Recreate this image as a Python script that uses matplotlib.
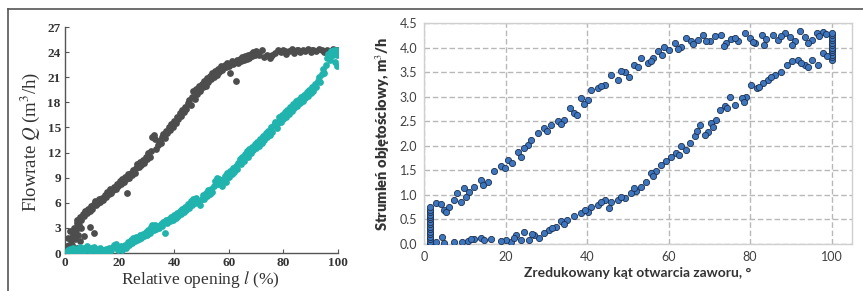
import matplotlib
matplotlib.use('Agg')
import matplotlib.pyplot as plt
from matplotlib.lines import Line2D

# ---- left panel: flowrate vs relative opening ----
open_x = [0.3, 0.6, 1.0, 1.2, 1.5, 1.8, 2.0, 2.3, 2.6, 3.0, 3.3, 3.6, 4.0, 4.3, 4.7, 5.0, 5.3,
          3.5, 4.5, 5.5, 6.0, 7.0, 9.0, 10.5,
          4.5, 5.5, 6.0, 6.5, 7.0, 7.5, 8.0, 8.5, 9.0, 9.5, 10.0, 10.5, 11.0, 11.5, 12.0, 12.5,
          13.0, 13.5, 14.0, 14.5, 15.0, 15.5, 16.0, 16.5, 17.0, 17.5, 18.0, 18.5, 19.0, 19.5,
          20.0, 20.5, 21.0, 21.5, 22.0, 22.5, 23.0, 23.5, 24.0, 24.5, 25.0, 25.5, 26.0, 26.5,
          27.0, 27.5, 28.0, 28.5, 29.0, 29.5, 30.0, 30.5, 31.0, 31.5, 32.0, 32.5, 33.0, 33.5,
          34.0, 34.5, 35.0, 35.5, 36.0, 36.5, 37.0, 37.5, 38.0, 38.5, 39.0, 39.5, 40.0, 40.5,
          41.0, 41.5, 42.0, 42.5, 43.0, 43.5, 44.0, 44.5, 45.0, 45.5, 46.0, 46.5, 47.0, 47.5,
          48.0, 48.5, 49.0, 49.5, 50.0, 50.5, 51.0, 51.5, 52.0, 52.5, 53.0, 53.5, 54.0, 54.5,
          55.0, 55.5, 56.0, 56.5, 57.0, 57.5, 58.0, 58.5, 59.0, 59.5, 60.0, 60.5, 61.0, 61.5,
          62.0, 62.5, 63.0, 63.5, 64.0, 64.5, 65.0, 65.5, 66.0, 66.5, 67.0, 67.5, 68.0, 68.5,
          69.0, 69.5, 70.0, 71.0, 72.0, 73.0, 74.0, 75.0, 76.0, 77.0, 78.0, 79.0, 80.0, 81.0,
          82.0, 83.0, 84.0, 85.0, 86.0, 87.0, 88.0, 89.0, 90.0, 91.0, 92.0, 93.0, 94.0, 95.0,
          96.0, 97.0, 98.0, 99.0, 99.5, 100.0, 22.6, 70.5, 75.5, 80.5, 85.5, 90.5, 95.5]
open_q = [0.2, 0.8, 0.4, 1.8, 1.0, 0.6, 2.6, 1.5, 0.9, 2.2, 3.0, 1.7, 2.8, 3.6, 2.2, 3.9, 3.3,
          0.4, 0.6, 1.4, 3.0, 2.0, 3.1, 2.4,
          4.0, 4.3, 3.9, 4.6, 4.4, 5.0, 4.8, 5.2, 5.0, 5.6, 5.3, 5.9, 6.2, 5.7, 6.0, 6.4,
          6.1, 6.6, 6.3, 6.9, 6.7, 7.3, 7.0, 7.6, 7.2, 7.5, 7.9, 7.7, 8.2, 8.0,
          8.6, 8.3, 8.9, 8.5, 9.1, 8.8, 9.4, 9.0, 9.6, 9.3, 9.9, 9.5, 10.2, 10.6,
          10.3, 10.9, 10.5, 11.1, 10.8, 11.5, 11.2, 11.9, 11.5, 12.2, 13.8, 14.1, 13.6, 12.4,
          12.9, 13.4, 13.1, 13.8, 14.2, 13.7, 14.6, 14.3, 15.0, 14.7, 15.4, 15.1, 15.8, 15.5,
          16.3, 16.0, 16.7, 16.4, 17.1, 16.8, 17.5, 17.2, 17.9, 18.3, 17.7, 18.6, 19.3, 18.4,
          19.6, 19.0, 19.9, 19.4, 20.2, 19.8, 20.6, 20.0, 20.9, 20.4, 21.2, 20.8, 21.5, 21.0,
          21.8, 21.3, 22.0, 21.6, 22.3, 21.9, 22.1, 22.5, 22.2, 22.7, 22.4, 21.5, 22.9, 22.6,
          22.8, 20.6, 23.1, 22.7, 23.2, 22.9, 23.4, 23.0, 23.5, 23.2, 23.7, 23.3, 23.8, 23.5,
          24.0, 23.6, 24.1, 23.7, 24.2, 23.4, 23.7, 23.3, 23.6, 23.9, 24.2, 24.0, 24.3, 23.8,
          24.1, 24.4, 23.9, 24.2, 24.0, 24.3, 24.1, 24.4, 24.0, 24.3, 24.1, 24.4, 24.2, 24.0,
          24.3, 24.1, 24.4, 24.0, 24.2, 24.3, 7.2, 23.9, 23.5, 24.1, 24.3, 24.2, 24.1]

close_x = [0.5, 1.0, 1.5, 2.0, 2.5, 3.0, 3.5, 4.0, 4.5, 5.0, 5.5, 6.0, 6.5, 7.0, 7.5, 8.0,
           8.5, 9.0, 9.5, 10.0, 10.5, 11.0, 11.5, 12.0, 12.5, 13.0, 13.5, 14.0, 14.5, 15.0,
           15.5, 16.0, 16.5, 17.0, 17.5, 18.0, 18.5, 19.0, 19.5, 20.0, 20.5, 21.0, 21.5, 22.0,
           22.5, 23.0, 23.5, 24.0, 24.5, 25.0, 25.5, 26.0, 26.5, 27.0, 27.5, 28.0, 28.5, 29.0,
           29.5, 30.0, 30.5, 31.0, 31.5, 32.0, 32.5, 33.0, 33.5, 34.0, 34.5, 35.0, 35.5, 36.0,
           36.5, 37.0, 37.5, 38.0, 38.5, 39.0, 39.5, 40.0, 40.5, 41.0, 41.5, 42.0, 42.5, 43.0,
           43.5, 44.0, 44.5, 45.0, 45.5, 46.0, 46.5, 47.0, 47.5, 48.0, 48.5, 49.0, 49.5, 50.0,
           50.5, 51.0, 51.5, 52.0, 52.5, 53.0, 53.5, 54.0, 54.5, 55.0, 55.5, 56.0, 56.5, 57.0,
           57.5, 58.0, 58.5, 59.0, 59.5, 60.0, 60.5, 61.0, 61.5, 62.0, 62.5, 63.0, 63.5, 64.0,
           64.5, 65.0, 65.5, 66.0, 66.5, 67.0, 67.5, 68.0, 68.5, 69.0, 69.5, 70.0, 70.5, 71.0,
           71.5, 72.0, 72.5, 73.0, 73.5, 74.0, 74.5, 75.0, 75.5, 76.0, 76.5, 77.0, 77.5, 78.0,
           78.5, 79.0, 79.5, 80.0, 80.5, 81.0, 81.5, 82.0, 82.5, 83.0, 83.5, 84.0, 84.5, 85.0,
           85.5, 86.0, 86.5, 87.0, 87.5, 88.0, 88.5, 89.0, 89.5, 90.0, 90.5, 91.0, 91.5, 92.0,
           92.5, 93.0, 93.5, 94.0, 94.5, 95.0, 95.5, 96.0, 96.5, 97.0, 97.5, 98.0, 98.5, 99.0,
           99.5, 99.8, 100.0]
close_q = [0.0, 0.3, 0.1, 0.5, 0.2, 0.6, 0.3, 0.1, 0.5, 0.2, 0.7, 0.4, 0.1, 0.6, 0.3, 0.8,
           0.4, 0.2, 0.6, 0.3, 0.7, 0.4, 0.2, 0.5, 0.3, 0.6, 0.2, 0.4, 0.1, 0.5,
           0.3, 0.6, 0.2, 0.4, 0.7, 0.9, 1.1, 0.6, 0.3, 0.5, 0.8, 0.4, 0.7, 1.0,
           0.6, 1.3, 0.9, 1.6, 1.2, 1.8, 1.4, 1.9, 1.5, 1.7, 2.1, 1.8, 2.3, 2.0,
           2.5, 2.2, 2.8, 2.4, 3.1, 3.4, 2.7, 3.3, 2.9, 3.2, 3.0, 3.5, 3.2, 3.7,
           2.4, 3.9, 3.6, 4.1, 3.8, 4.3, 4.0, 4.5, 4.2, 4.8, 4.4, 5.0, 4.7, 5.3,
           4.9, 5.5, 5.1, 5.8, 5.4, 6.2, 5.7, 6.4, 6.0, 6.6, 6.2, 6.1, 5.7, 6.5,
           6.9, 6.4, 7.2, 6.8, 7.5, 7.0, 7.7, 7.3, 8.0, 8.6, 9.0, 8.2, 8.8, 8.4,
           8.0, 8.7, 9.2, 8.5, 9.5, 9.1, 9.8, 9.4, 10.1, 9.7, 10.4, 10.0, 10.8, 11.2,
           10.6, 11.5, 11.0, 11.8, 12.2, 11.5, 12.4, 12.0, 12.7, 12.3, 13.0, 12.5, 13.3, 12.8,
           13.6, 13.1, 14.0, 13.5, 14.3, 13.8, 14.6, 14.1, 15.0, 14.5, 15.3, 15.7, 14.9, 15.5,
           16.2, 15.6, 16.5, 16.0, 16.8, 16.3, 17.1, 16.6, 17.4, 17.0, 17.8, 17.3, 18.1, 17.6,
           18.3, 17.9, 18.6, 18.2, 18.9, 18.5, 19.2, 18.8, 19.5, 19.1, 19.8, 19.4, 20.2, 19.8,
           20.6, 21.0, 20.4, 21.4, 22.0, 21.5, 22.5, 23.3, 23.8, 23.0, 24.1, 23.6, 24.3, 22.8,
           23.6, 22.3, 24.2]

# ---- right panel: volumetric flow vs reduced valve opening angle ----
up_x = [1.5, 1.5, 1.5, 1.5, 1.5, 1.5, 1.5, 1.5, 1.5, 1.5, 1.5, 1.5, 1.5, 1.5, 1.5, 1.5,
        2.9, 4.1, 4.9, 6.1, 7.4, 8.2, 9.0, 9.8, 11.1, 12.3, 13.9, 15.6, 17.2, 18.9, 20.5,
        21.7, 23.0, 23.8, 25.4, 26.2, 27.9, 29.5, 31.1, 32.8, 34.4, 35.7, 36.9, 38.5, 40.2,
        41.0, 42.6, 44.3, 45.9, 47.5, 49.2, 50.4, 51.6, 53.3, 54.9, 56.1, 57.4, 59.0, 60.2,
        61.5, 63.1, 64.3, 65.6, 67.2, 68.4, 70.1, 71.3, 72.9, 74.2, 75.4, 77.0, 78.7, 79.9,
        81.1, 82.8, 84.0, 85.6, 86.9, 88.5, 89.8, 91.0, 92.2, 93.4, 95.1, 96.3, 97.9,
        5.5, 10.2, 14.5, 19.8, 24.5, 30.2, 33.5, 37.5, 39.2, 43.5, 48.3, 52.5, 55.8, 58.4,
        62.2, 66.0, 69.3, 73.6, 76.2, 80.6, 83.4, 87.7, 90.4, 94.2, 96.9, 98.6]
up_q = [0.0, 0.05, 0.1, 0.15, 0.2, 0.25, 0.3, 0.35, 0.4, 0.45, 0.5, 0.55, 0.6, 0.65, 0.7, 0.75,
        0.83, 0.82, 0.69, 0.76, 0.90, 1.03, 0.86, 1.14, 1.05, 1.17, 1.30, 1.27, 1.48, 1.58, 1.71,
        1.65, 1.88, 1.78, 2.02, 2.12, 2.26, 2.36, 2.43, 2.50, 2.53, 2.77, 2.66, 2.97, 2.94,
        3.14, 3.17, 3.24, 3.45, 3.34, 3.51, 3.41, 3.65, 3.79, 3.68, 3.79, 3.92, 4.02, 3.96,
        4.10, 4.02, 4.19, 4.13, 4.16, 4.26, 4.13, 4.23, 4.26, 4.09, 4.17, 4.13, 4.30, 4.20,
        4.09, 4.26, 4.17, 4.26, 4.16, 4.30, 4.22, 4.13, 4.33, 4.22, 4.16, 4.30, 4.32,
        0.66, 0.95, 1.20, 1.55, 1.95, 2.30, 2.45, 2.62, 2.85, 3.22, 3.52, 3.60, 3.72, 3.85,
        3.98, 4.08, 4.14, 4.04, 4.20, 4.12, 4.06, 4.24, 4.06, 4.10, 4.24, 4.28]

down_x = [100.0, 100.0, 100.0, 100.0, 100.0, 100.0, 100.0, 100.0, 100.0, 100.0, 100.0, 100.0,
          97.9, 96.7, 95.1, 93.4, 91.8, 90.2, 89.0, 87.7, 86.1, 84.4, 83.2, 81.6, 80.3, 79.1,
          77.9, 76.2, 75.0, 73.8, 72.5, 71.7, 70.5, 69.7, 68.9, 67.6, 66.4, 65.2, 64.3, 63.1,
          61.9, 60.7, 59.4, 58.2, 57.0, 55.7, 54.5, 53.3, 52.0, 50.8, 49.2, 47.5, 45.9, 44.3,
          45.5, 42.6, 41.0, 40.2, 38.5, 36.9, 35.2, 33.6, 32.4, 30.7, 29.5, 28.3, 27.0, 25.8,
          24.6, 23.8, 22.5, 21.3, 20.1, 18.9, 16.4, 13.9, 12.3, 10.7, 9.4, 7.4, 4.9, 4.5, 2.9,
          98.8, 94.3, 92.6, 85.2, 82.3, 78.5, 74.4, 70.9, 66.9, 62.5, 56.3, 51.4, 48.3, 43.5,
          39.4, 34.4, 31.5, 26.4, 22.0, 14.8, 11.6]
down_q = [3.75, 3.80, 3.85, 3.90, 3.95, 4.00, 4.05, 4.10, 4.15, 4.20, 4.25, 4.30,
          3.89, 3.65, 3.75, 3.65, 3.75, 3.72, 3.65, 3.51, 3.45, 3.34, 3.28, 3.17, 3.24, 3.00,
          2.97, 2.83, 3.00, 2.80, 2.73, 2.53, 2.46, 2.29, 2.22, 2.43, 2.19, 2.05, 1.92, 1.99,
          1.85, 1.78, 1.68, 1.61, 1.48, 1.44, 1.27, 1.17, 1.07, 1.03, 0.93, 0.90, 0.86, 0.90,
          0.73, 0.80, 0.76, 0.66, 0.63, 0.56, 0.49, 0.46, 0.35, 0.29, 0.22, 0.12, 0.18, 0.08,
          0.25, 0.08, 0.18, 0.05, 0.08, 0.07, 0.10, 0.12, 0.10, 0.07, 0.05, 0.05, 0.02, 0.15, 0.05,
          3.82, 3.60, 3.68, 3.40, 3.20, 2.90, 2.76, 2.38, 2.30, 1.82, 1.38, 1.15, 0.95, 0.85,
          0.70, 0.40, 0.32, 0.20, 0.12, 0.08, 0.10]

plt.rcParams['mathtext.fontset'] = 'stix'

fig = plt.figure(figsize=(8.63, 2.91), dpi=100)
W, H = 863, 291


def px(x0, y0, x1, y1):
    # pixel box (top-left origin) -> figure fraction rect
    return [x0 / W, 1 - y1 / H, (x1 - x0) / W, (y1 - y0) / H]


# left panel
axL = fig.add_axes(px(65, 27, 338, 253))
axL.scatter(open_x, open_q, s=24, color='#4d4d4d', lw=0, zorder=3)
axL.scatter(close_x, close_q, s=24, color='#21b3ad', lw=0, zorder=3)
axL.set_xlim(0, 100)
axL.set_ylim(0, 27)
axL.set_xticks(range(0, 101, 20))
axL.set_yticks(range(0, 28, 3))
for s in ('top', 'right'):
    axL.spines[s].set_visible(False)
for s in ('left', 'bottom'):
    axL.spines[s].set_color('#555555')
    axL.spines[s].set_linewidth(1.0)
axL.tick_params(direction='in', length=3, width=0.8, color='#555555', labelsize=9.5, pad=3)
for lab in axL.get_xticklabels() + axL.get_yticklabels():
    lab.set_fontfamily('Liberation Serif')
    lab.set_fontweight('bold')
    lab.set_color('#333333')
fig.text(30 / W, 1 - 142 / H, r'Flowrate $\mathit{Q}$ (m$^3$/h)', rotation=90,
         ha='center', va='center', fontsize=13.5, family='Liberation Serif', color='#333333')
fig.text(200 / W, 1 - 280 / H, r'Relative opening $\mathit{l}$ (%)',
         ha='center', va='center', fontsize=12.5, family='Liberation Serif', color='#333333')

# right panel
axR = fig.add_axes(px(424, 23, 852, 244))
axR.scatter(up_x, up_q, s=20, color='#3d76bf', edgecolor='#1d3050', lw=0.6, zorder=3)
axR.scatter(down_x, down_q, s=20, color='#3d76bf', edgecolor='#1d3050', lw=0.6, zorder=3)
axR.set_xlim(0, 105)
axR.set_ylim(0, 4.5)
axR.set_xticks(range(0, 101, 20))
axR.set_yticks([i * 0.5 for i in range(10)])
axR.set_yticklabels([f'{i * 0.5:.1f}' for i in range(10)])
axR.grid(True, ls=(0, (4, 2)), color='#b8b8b8', lw=1.0, zorder=0)
for s in axR.spines.values():
    s.set_color('#cfcfcf')
    s.set_linewidth(1.0)
axR.tick_params(length=0, labelsize=9, labelcolor='#404040', pad=5)
for lab in axR.get_xticklabels() + axR.get_yticklabels():
    lab.set_fontfamily('Lato')
axR.set_ylabel('Strumień objętościowy, m$^3$/h', fontsize=10.5, fontweight='heavy',
               family='Lato', color='#333333', labelpad=5)
axR.set_xlabel('Zredukowany kąt otwarcia zaworu, °', fontsize=10, fontweight='bold',
               family='Lato', color='#333333', labelpad=3)

# outer frame lines (top and left)
fig.add_artist(Line2D([8 / W, 1], [1 - 9 / H, 1 - 9 / H], color='#555555', lw=1.2))
fig.add_artist(Line2D([8 / W, 8 / W], [0, 1 - 9 / H], color='#555555', lw=1.2))

fig.savefig('out.png', dpi=100)
